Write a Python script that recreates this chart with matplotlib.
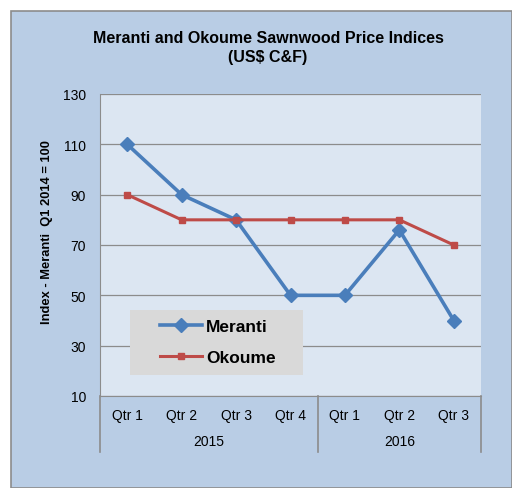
import matplotlib.pyplot as plt
from matplotlib.patches import Rectangle
from matplotlib.lines import Line2D

# data
quarters = ['Qtr 1', 'Qtr 2', 'Qtr 3', 'Qtr 4', 'Qtr 1', 'Qtr 2', 'Qtr 3']
years = ['2015', '2016']
year_counts = [4, 3]
meranti = [110, 90, 80, 50, 50, 76, 40]
okoume = [90, 80, 80, 80, 80, 80, 70]

W, H = 512, 489
fig = plt.figure(figsize=(W / 100, H / 100), dpi=100)
fig.patch.set_facecolor('white')
plt.rcParams['font.family'] = ['Liberation Sans', 'DejaVu Sans']

# outer chart frame
fig.patches.append(Rectangle((11 / W, 0), 1 - 11 / W, 1 - 12 / H, transform=fig.transFigure,
                             facecolor='#b9cde5', edgecolor='#8c8c8c', linewidth=1.2, zorder=-5))

ax = fig.add_axes([100 / W, 1 - 397 / H, 381 / W, 302 / H])
ax.set_facecolor('#dce6f2')

x = range(len(quarters))
ax.plot(x, meranti, color='#4a7ebb', linewidth=2.6, marker='D', markersize=7.5, label='Meranti', zorder=3)
ax.plot(x, okoume, color='#be4b48', linewidth=2.2, marker='s', markersize=5, label='Okoume', zorder=3)

ax.set_xlim(-0.5, len(quarters) - 0.5)
ax.set_ylim(10, 130)
ax.set_yticks(range(10, 131, 20))
ax.grid(axis='y', color='#8c8c8c', linewidth=0.9)
ax.set_axisbelow(True)
ax.tick_params(axis='y', length=0, labelsize=10, pad=10, colors='#000000')
ax.set_xticks([])
for s in ['top', 'right']:
    ax.spines[s].set_visible(False)
ax.spines['left'].set_color('#8c8c8c')
ax.spines['bottom'].set_color('#8c8c8c')

ax.set_ylabel('Index - Meranti  Q1 2014 = 100', fontsize=9.3, fontweight='bold')
ax.yaxis.set_label_coords(-0.124, 0.546)

# multi-level category axis
trans = ax.get_xaxis_transform()
for i, q in enumerate(quarters):
    ax.text(i, -0.063, q, transform=trans, ha='center', va='center', fontsize=10)
bounds = [0]
for c in year_counts:
    bounds.append(bounds[-1] + c)
for j, yr in enumerate(years):
    mid = (bounds[j] + bounds[j + 1]) / 2 - 0.5
    ax.text(mid, -0.150, yr, transform=trans, ha='center', va='center', fontsize=10)
for b in bounds:
    ax.add_line(Line2D([b - 0.5, b - 0.5], [0, -0.185], transform=trans, color='#8c8c8c',
                       linewidth=1.2, clip_on=False))

# legend box
ax.add_patch(Rectangle((30 / 381, 21 / 302), 173 / 381, 65 / 302, transform=ax.transAxes,
                       facecolor='#d9d9d9', edgecolor='none', zorder=4))
leg = ax.legend(loc='center left', bbox_to_anchor=(60 / 381, 54 / 302), frameon=False,
                prop={'weight': 'bold', 'size': 12.5}, borderpad=0, labelspacing=0.95,
                handlelength=2.4, handletextpad=0.25, borderaxespad=0)
leg.set_zorder(5)

fig.text(268 / W, 1 - 48 / H, 'Meranti and Okoume Sawnwood Price Indices\n(US$ C&F)',
         ha='center', va='center', fontsize=11.5, fontweight='bold', linespacing=1.3)

fig.savefig('out.png', dpi=100)
